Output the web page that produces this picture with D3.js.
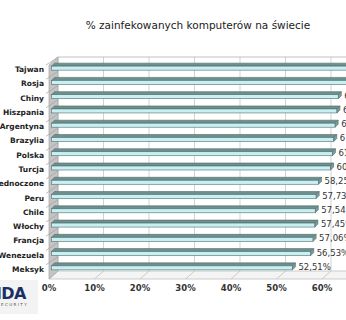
<!DOCTYPE html>
<html>
<head>
<meta charset="utf-8">
<script src="https://d3js.org/d3.v7.min.js"></script>
<style>
  body { margin: 0; background: #fff; }
  svg { display: block; }
</style>
</head>
<body>
<script>
// data (top to bottom)
var countries = ["Tajwan", "Rosja", "Chiny", "Hiszpania", "Argentyna", "Brazylia", "Polska",
                 "Turcja", "Stany Zjednoczone", "Peru", "Chile", "Włochy", "Francja", "Wenezuela", "Meksyk"];
var infected = [68.5, 65.9, 62.6, 62.3, 61.9, 61.6, 61.3, 60.9, 58.25, 57.73, 57.54, 57.45, 57.06, 56.53, 52.51];
var tickValues = [0, 10, 20, 30, 40, 50, 60, 70];
var chartTitle = "% zainfekowanych komputerów na świecie";

var width = 346, height = 320;
var depthX = 9, depthY = -8;   // 3d depth of the plot box

var svg = d3.select("body").append("svg")
    .attr("width", width)
    .attr("height", height);

var x = d3.scaleLinear().domain([0, 70]).range([49, 367.5]);
var y = d3.scaleBand().domain(countries).range([65, 279]);

var pl = d3.formatLocale({decimal: ",", thousands: " ", grouping: [3], currency: ["", ""]});
var fmt = pl.format(".2f");

svg.append("text")
    .attr("x", 198).attr("y", 29)
    .attr("text-anchor", "middle")
    .style("font-family", "DejaVu Sans, Verdana, sans-serif")
    .style("font-size", "10.5px")
    .style("fill", "#222")
    .text(chartTitle);

var floorY = y.range()[1];
var topY = y.range()[0];

// floor
svg.append("path")
    .attr("d", "M" + x(0) + "," + floorY + "L" + (x(0) + depthX) + "," + (floorY + depthY) +
               "L" + (width + 40) + "," + (floorY + depthY) + "L" + (width + 40) + "," + floorY + "Z")
    .style("fill", "#f4f4f4")
    .style("stroke", "#b8b8b8")
    .style("stroke-width", 0.7);

// back wall grid
svg.selectAll(".grid").data(tickValues).enter().append("line")
    .attr("class", "grid")
    .attr("x1", function(d){ return x(d) + depthX; })
    .attr("x2", function(d){ return x(d) + depthX; })
    .attr("y1", topY + depthY)
    .attr("y2", floorY + depthY)
    .style("stroke", "#c8c8c8")
    .style("stroke-width", 0.8);

svg.append("line")
    .attr("x1", x(0) + depthX).attr("x2", width + 40)
    .attr("y1", topY + depthY).attr("y2", topY + depthY)
    .style("stroke", "#b0b0b0")
    .style("stroke-width", 0.8);

// floor grid
svg.selectAll(".fgrid").data(tickValues).enter().append("line")
    .attr("class", "fgrid")
    .attr("x1", function(d){ return x(d); })
    .attr("x2", function(d){ return x(d) + depthX; })
    .attr("y1", floorY)
    .attr("y2", floorY + depthY)
    .style("stroke", "#c0c0c0")
    .style("stroke-width", 0.8);

// left wall
svg.append("path")
    .attr("d", "M" + x(0) + "," + floorY + "L" + x(0) + "," + topY +
               "L" + (x(0) + depthX) + "," + (topY + depthY) + "L" + (x(0) + depthX) + "," + (floorY + depthY) + "Z")
    .style("fill", "#c4c4c4")
    .style("stroke", "#a8a8a8")
    .style("stroke-width", 0.7);

svg.selectAll(".wallTick").data(countries).enter().append("line")
    .attr("class", "wallTick")
    .attr("x1", x(0) - 3)
    .attr("x2", x(0) + depthX)
    .attr("y1", function(d){ return y(d); })
    .attr("y2", function(d){ return y(d) + depthY; })
    .style("stroke", "#a0a0a0")
    .style("stroke-width", 0.7);

// bars, placed half way into the depth
var rows = countries.map(function(c, i){ return {name: c, value: infected[i]}; });
var bx = depthX / 2, by = depthY / 2, bd = 3, bh = 4;

var bar = svg.selectAll(".bar").data(rows).enter().append("g")
    .attr("class", "bar");

function yc(d){ return y(d.name) + y.bandwidth() / 2 + by - 1; }

bar.append("path")
    .attr("d", function(d){
        var x0 = x(0) + bx - 2, x1 = x(d.value) + bx, t = yc(d) - 1;
        return "M" + x0 + "," + t + "L" + x1 + "," + t + "L" + (x1 + bd) + "," + (t - bd) +
               "L" + (x0 + bd) + "," + (t - bd) + "Z";
    })
    .style("fill", "#6f8f8f")
    .style("stroke", "#4f6d6d")
    .style("stroke-width", 0.6);

bar.append("rect")
    .attr("x", x(0) + bx - 2)
    .attr("y", function(d){ return yc(d) - 1; })
    .attr("width", function(d){ return x(d.value) - x(0) + 2; })
    .attr("height", bh)
    .style("fill", "#c8f0f2")
    .style("stroke", "#4f6d6d")
    .style("stroke-width", 0.6);

bar.append("path")
    .attr("d", function(d){
        var x1 = x(d.value) + bx, t = yc(d) - 1;
        return "M" + x1 + "," + t + "L" + (x1 + bd) + "," + (t - bd) + "L" + (x1 + bd) + "," + (t - bd + bh) +
               "L" + x1 + "," + (t + bh) + "Z";
    })
    .style("fill", "#7e9c9c")
    .style("stroke", "#4f6d6d")
    .style("stroke-width", 0.6);

bar.append("text")
    .attr("x", function(d){ return x(d.value) + bx + bd + 3; })
    .attr("y", function(d){ return yc(d) + 3; })
    .style("font-family", "DejaVu Sans, Verdana, sans-serif")
    .style("font-size", "8.5px")
    .style("fill", "#333")
    .text(function(d){ return fmt(d.value) + "%"; });

// category labels
svg.selectAll(".cat").data(countries).enter().append("text")
    .attr("class", "cat")
    .attr("x", 44)
    .attr("y", function(d){ return y(d) + y.bandwidth() / 2; })
    .attr("text-anchor", "end")
    .style("font-family", "DejaVu Sans, Verdana, sans-serif")
    .style("font-size", "7.5px")
    .style("font-weight", "bold")
    .style("fill", "#222")
    .text(function(d){ return d; });

// value axis labels
svg.selectAll(".tick").data(tickValues).enter().append("text")
    .attr("class", "tick")
    .attr("x", function(d){ return x(d); })
    .attr("y", 291)
    .attr("text-anchor", "middle")
    .style("font-family", "DejaVu Sans, Verdana, sans-serif")
    .style("font-size", "8.5px")
    .style("font-weight", "bold")
    .style("fill", "#333")
    .text(function(d){ return d + "%"; });

// logo, cut on the left like the original
var logo = svg.append("g");
logo.append("rect")
    .attr("x", 0).attr("y", 280).attr("width", 38).attr("height", 34)
    .style("fill", "#f3f3f3");
logo.append("text")
    .attr("x", 26).attr("y", 299)
    .attr("text-anchor", "end")
    .style("font-family", "DejaVu Sans, Verdana, sans-serif")
    .style("font-size", "16px")
    .style("font-weight", "bold")
    .style("letter-spacing", "-0.5px")
    .style("fill", "#1c2f63")
    .text("PANDA");
logo.append("text")
    .attr("x", 28).attr("y", 306)
    .attr("text-anchor", "end")
    .style("font-family", "DejaVu Sans, Verdana, sans-serif")
    .style("font-size", "4px")
    .style("letter-spacing", "1.4px")
    .style("fill", "#555")
    .text("SECURITY");
</script>
</body>
</html>
